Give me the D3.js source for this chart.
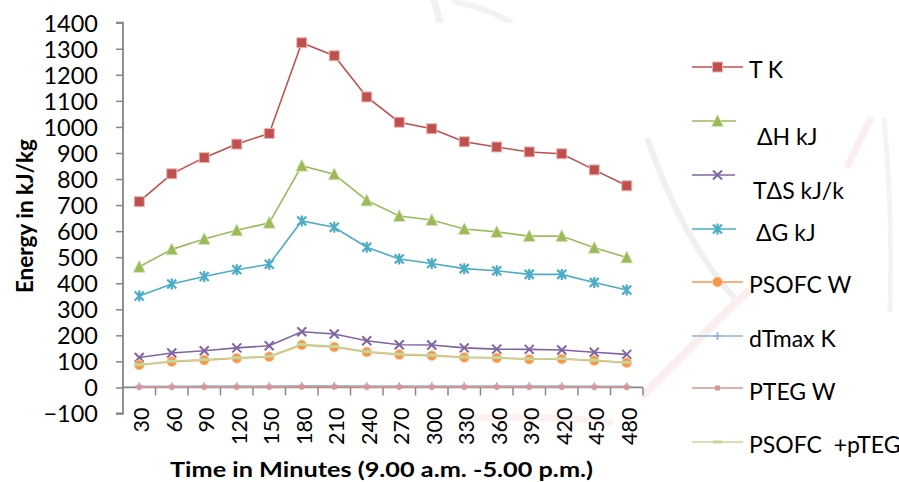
<!DOCTYPE html>
<html>
<head>
<meta charset="utf-8">
<script src="https://cdn.jsdelivr.net/npm/d3@7/dist/d3.min.js"></script>
<style>
  html, body { margin: 0; padding: 0; background: #ffffff; }
  svg { display: block; }
  text { font-family: Lato, "Open Sans", sans-serif; fill: #000; }
</style>
</head>
<body>
<svg id="chart" width="899" height="482"></svg>
<script>
// Time of day, minutes after 9.00 a.m.
const categories = ["30","60","90","120","150","180","210","240","270","300","330","360","390","420","450","480"];

// Series values
const tK      = [713, 820, 882, 934, 975, 1323, 1273, 1115, 1018, 993, 943, 923, 904, 897, 835, 774];
const dH      = [463, 530, 570, 603, 632, 851, 818, 718, 658, 643, 608, 597, 581, 581, 536, 499];
const tdS     = [115, 132, 141, 152, 160, 214, 205, 179, 164, 163, 152, 147, 146, 144, 135, 127];
const dG      = [351, 397, 426, 452, 473, 639, 615, 538, 493, 476, 456, 448, 434, 434, 403, 374];
const pSOFC   = [86, 99, 105, 112, 118, 163, 155, 136, 126, 122, 115, 113, 108, 109, 103, 95];
const dTmax   = [4, 4, 5, 5, 5, 6, 6, 5, 5, 5, 5, 5, 5, 5, 4, 4];
const pTEG    = [1.5, 1.7, 1.8, 1.9, 2.0, 2.6, 2.5, 2.2, 2.0, 1.9, 1.8, 1.8, 1.7, 1.7, 1.6, 1.5];
const pSumTEG = [87.5, 100.7, 106.8, 113.9, 120.0, 165.6, 157.5, 138.2, 128.0, 123.9, 116.8, 114.8, 109.7, 110.7, 104.6, 96.5];

// Axis ticks and titles
const yTicks = [-100, 0, 100, 200, 300, 400, 500, 600, 700, 800, 900, 1000, 1100, 1200, 1300, 1400];
const xTitle = "Time in Minutes (9.00 a.m. -5.00 p.m.)";
const yTitle = "Energy in kJ/kg";

const series = [
  { name: "T K",          values: tK,      color: "#C0504D", marker: "square",   edge: "#E6B9B8", size: 10, lx: 749 },
  { name: "\u0394H kJ",   values: dH,      color: "#9BBB59", marker: "triangle", edge: "#D7E4BD", size: 11, lx: 757 },
  { name: "T\u0394S kJ/k",values: tdS,     color: "#8064A2", marker: "x",        edge: null,      size: 9,  lx: 753 },
  { name: "\u0394G kJ",   values: dG,      color: "#4BACC6", marker: "star",     edge: null,      size: 9,  lx: 756 },
  { name: "PSOFC W",      values: pSOFC,   color: "#F79646", marker: "circle",   edge: "#FBD5B5", size: 10, lx: 749 },
  { name: "dTmax K",      values: dTmax,   color: "#95B3D7", marker: "plus",     edge: null,      size: 8,  lx: 749 },
  { name: "PTEG W",       values: pTEG,    color: "#D99694", marker: "smallsq",  edge: null,      size: 5,  lx: 749 },
  { name: "PSOFC  +pTEG", values: pSumTEG, color: "#C3D69B", marker: "dash",     edge: null,      size: 9,  lx: 749 }
];

const legendLineY = [67, 121, 175, 229, 282, 336, 388, 442];
const legendTextY = [70, 137, 191, 233, 285, 339, 392, 445];
const legendLineEnd = [743, 736, 735, 736, 743, 743, 743, 743];

const svg = d3.select("#chart");

// Faint watermark strokes behind the chart
const wm = svg.append("g").attr("fill", "none").attr("stroke-linecap", "round");
wm.append("path").attr("d", "M432,-5 C436,6 438,14 440,24").attr("stroke", "#f1f1f1").attr("stroke-width", 7);
wm.append("path").attr("d", "M455,2 C475,6 500,14 512,24").attr("stroke", "#f3f3f3").attr("stroke-width", 6);
wm.append("path").attr("d", "M648,140 C668,200 700,262 738,302").attr("stroke", "#f0f0f0").attr("stroke-width", 6);
wm.append("path").attr("d", "M640,398 C690,350 720,315 748,292").attr("stroke", "#fbeeee").attr("stroke-width", 8);
wm.append("path").attr("d", "M848,165 C856,150 862,135 870,120").attr("stroke", "#fbeeee").attr("stroke-width", 7);
wm.append("path").attr("d", "M884,120 C890,180 892,240 890,310").attr("stroke", "#f3f3f3").attr("stroke-width", 5);
wm.append("path").attr("d", "M470,418 C520,416 570,418 610,422").attr("stroke", "#fcf1f1").attr("stroke-width", 7);

// Scales
const x = d3.scaleBand().domain(categories).range([123, 643]);
const y = d3.scaleLinear().domain([-100, 1400]).range([413.5, 22.7]);
const cx = c => x(c) + x.bandwidth() / 2;

// Plot area
svg.append("rect")
  .attr("x", x.range()[0]).attr("y", y(1400))
  .attr("width", x.range()[1] - x.range()[0]).attr("height", y(-100) - y(1400))
  .attr("fill", "#ffffff");

// Y axis
const yAxis = svg.append("g")
  .attr("transform", `translate(${x.range()[0]},0)`)
  .call(d3.axisLeft(y).tickValues(yTicks).tickSize(7).tickPadding(18).tickFormat(d3.format("d")));
yAxis.select(".domain").attr("stroke", "#868686").attr("stroke-width", 1.8).attr("d", `M-7,${y(1400)}H0V${y(-100)}H-7`);
yAxis.selectAll(".tick line").attr("stroke", "#868686").attr("stroke-width", 1.5);
yAxis.selectAll(".tick text")
  .attr("font-family", "Lato, sans-serif").attr("font-size", 23.5).attr("fill", "#000")
  .attr("dy", "0.36em");

// X axis at zero, ticks between categories
const xAxisG = svg.append("g");
xAxisG.append("line")
  .attr("x1", x.range()[0]).attr("x2", x.range()[1])
  .attr("y1", y(0)).attr("y2", y(0))
  .attr("stroke", "#868686").attr("stroke-width", 1.8);
xAxisG.selectAll("line.tk")
  .data(categories.slice(1).concat(["end"]))
  .join("line")
  .attr("class", "tk")
  .attr("x1", (d, i) => x.range()[0] + (i + 1) * x.bandwidth())
  .attr("x2", (d, i) => x.range()[0] + (i + 1) * x.bandwidth())
  .attr("y1", y(0)).attr("y2", y(0) + 8)
  .attr("stroke", "#868686").attr("stroke-width", 1.5);

svg.append("g").selectAll("text")
  .data(categories)
  .join("text")
  .attr("transform", d => `translate(${cx(d) + 2},${y(-100) - 6}) rotate(-90)`)
  .attr("text-anchor", "end")
  .attr("dy", "0.36em")
  .attr("font-size", 21.5)
  .text(d => d);

// Axis titles
svg.append("text")
  .attr("x", 170).attr("y", 477)
  .attr("textLength", 423).attr("lengthAdjust", "spacingAndGlyphs")
  .attr("font-weight", "bold").attr("font-size", 21)
  .text(xTitle);

svg.append("text")
  .attr("transform", `translate(33,${(y(1400) + y(-100)) / 2 - 2}) rotate(-90)`)
  .attr("text-anchor", "middle")
  .attr("font-weight", "bold").attr("font-size", 22.5)
  .text(yTitle);

// Marker shapes
function drawMarker(g, s, px, py) {
  const h = s.size / 2;
  switch (s.marker) {
    case "square":
      g.append("rect").attr("x", px - h).attr("y", py - h).attr("width", s.size).attr("height", s.size)
        .attr("fill", s.color).attr("stroke", s.edge).attr("stroke-width", 1);
      break;
    case "triangle":
      g.append("path").attr("d", `M${px},${py - h - 1}L${px + h + 0.5},${py + h}L${px - h - 0.5},${py + h}Z`)
        .attr("fill", s.color).attr("stroke", s.edge).attr("stroke-width", 0.8);
      break;
    case "x":
      g.append("path").attr("d", `M${px - h},${py - h}L${px + h},${py + h}M${px - h},${py + h}L${px + h},${py - h}`)
        .attr("stroke", s.color).attr("stroke-width", 2).attr("fill", "none");
      break;
    case "star":
      g.append("path").attr("d", `M${px - h},${py - h}L${px + h},${py + h}M${px - h},${py + h}L${px + h},${py - h}M${px},${py - h - 1}L${px},${py + h + 1}`)
        .attr("stroke", s.color).attr("stroke-width", 2.2).attr("fill", "none");
      break;
    case "circle":
      g.append("circle").attr("cx", px).attr("cy", py).attr("r", h)
        .attr("fill", s.color).attr("stroke", s.edge).attr("stroke-width", 0.8);
      break;
    case "plus":
      g.append("path").attr("d", `M${px - h},${py}L${px + h},${py}M${px},${py - h}L${px},${py + h}`)
        .attr("stroke", s.color).attr("stroke-width", 1.8).attr("fill", "none");
      break;
    case "smallsq":
      g.append("rect").attr("x", px - h).attr("y", py - h).attr("width", s.size).attr("height", s.size)
        .attr("fill", s.color);
      break;
    case "dash":
      g.append("rect").attr("x", px - h).attr("y", py - 1.5).attr("width", s.size).attr("height", 3)
        .attr("fill", s.color);
      break;
  }
}

// Series lines and markers
const line = d3.line().x((d, i) => cx(categories[i])).y(d => y(d));
series.forEach(s => {
  const g = svg.append("g");
  g.append("path").datum(s.values).attr("d", line)
    .attr("fill", "none").attr("stroke", s.color).attr("stroke-width", 1.6);
  s.values.forEach((v, i) => drawMarker(g, s, cx(categories[i]), y(v)));
});

// Legend
const lg = svg.append("g");
series.forEach((s, i) => {
  const g = lg.append("g");
  g.append("line").attr("x1", 692).attr("x2", legendLineEnd[i])
    .attr("y1", legendLineY[i]).attr("y2", legendLineY[i])
    .attr("stroke", s.color).attr("stroke-width", 1.6);
  drawMarker(g, s, 717.5, legendLineY[i]);
  g.append("text").attr("x", s.lx).attr("y", legendTextY[i]).attr("dy", "0.36em")
    .style("white-space", "pre")
    .attr("font-size", 23).text(s.name);
});
</script>
</body>
</html>
